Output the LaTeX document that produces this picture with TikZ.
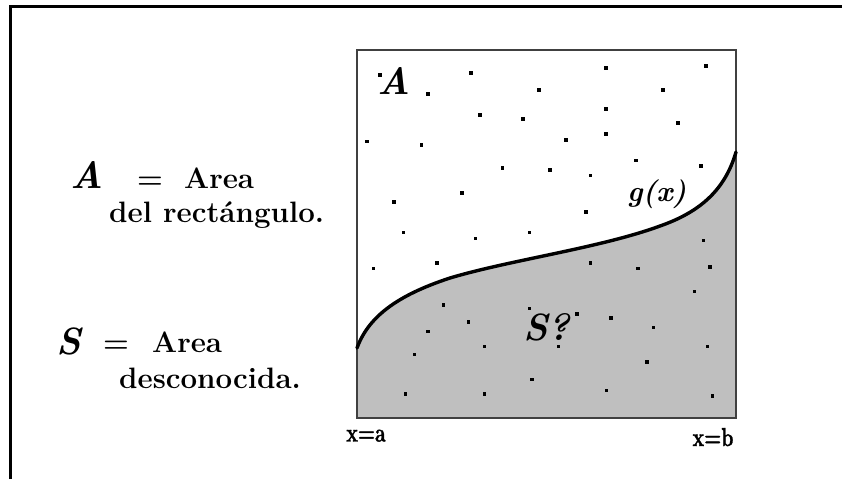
\documentclass[tikz,border=0pt]{standalone}
\usepackage{fontspec}
\newfontfamily\heavyfont{Latin Modern Roman}[BoldFeatures={FakeBold=1.5}]
\begin{document}
\begin{tikzpicture}[x=1pt,y=-1pt,
  frameline/.style={line width=3pt,line cap=butt},
  boxline/.style={line width=1.6pt,draw=black!75},
  curveline/.style={line width=3.4pt,line cap=round},
  shade/.style={fill=black!25},
  lbl/.style={inner sep=0pt,anchor=base west,font=\fontsize{29.5}{32}\selectfont\bfseries},
  var/.style={inner sep=0pt,anchor=base west,font=\fontsize{38}{40}\selectfont\bfseries\itshape},
  fn/.style={inner sep=0pt,anchor=base west,font=\fontsize{29}{31}\selectfont\bfseries\itshape},
  endlbl/.style={inner sep=0pt,anchor=base,font=\heavyfont\fontsize{26}{28}\selectfont\bfseries},
  dotmark/.style={fill=black}]
\useasboundingbox (0,0) rectangle (842,479);
% frame
\draw[frameline] (10.5,479) -- (10.5,6.5) -- (842,6.5);
% shaded region under g(x)
\fill[shade] (357,418) -- (357,348)
  .. controls (368,318) and (395,296) .. (450,278)
  .. controls (510,260) and (600,248) .. (660,226)
  .. controls (700,212) and (725,190) .. (736,152)
  -- (736,418) -- cycle;
% rectangle
\draw[boxline] (357,50) rectangle (736,418);
% curve g(x)
\draw[curveline] (357,348)
  .. controls (368,318) and (395,296) .. (450,278)
  .. controls (510,260) and (600,248) .. (660,226)
  .. controls (700,212) and (725,190) .. (736,152);
% dots
\foreach \px/\py in {380/75,471/73,428/94,539/90,606/68,706/66,663/90,480/115,523/119,606/109,678/123,367/141.5,421.5/145,566/140,606/134,502.5/168,550/170,590.5/175.7,636/160.5,701/166,394/202,462/193,586/212,403.3/232.7,475.5/238.3,529.7/232.7,373.7/268.7,437/263,590.7/263,638/268.7,703.3/240.3,710/267,694.3/291.5,443.7/305,529.3/308.3,577/314,611/318,468.5/322,653.5/327.5,428/331.7,484.3/346.7,558.7/346.7,707.7/346.7,414.7/354.3,647/362,532/379.3,405.7/394,484.3/394,606.3/390.3,712.3/396}
  \fill[dotmark] (\px-1.7,\py-1.6) rectangle (\px+1.7,\py+1.6);
% labels inside
\node[var] (Ain) at (377,94) {A};
\node[fn] (gx) at (627,201) {g(x)};
\node[var] (Sin) at (523,340) {S?};
\node[endlbl] (xa) at (366,441.5) {\scalebox{0.75}[1]{x=a}};
\node[endlbl] (xb) at (713,446) {\scalebox{0.75}[1]{x=b}};
% legend
\node[var] (Aleg) at (70,188) {A};
\node[lbl] (Aeq) at (137,188) {=};
\node[lbl] (Aarea) at (184,188) {Area};
\node[lbl] (Adesc) at (109,222) {del rectángulo.};
\node[var] (Sleg) at (56,354) {S};
\node[lbl] (Seq) at (103,352) {=};
\node[lbl] (Sarea) at (152,352) {Area};
\node[lbl] (Sdesc) at (119,388) {desconocida.};
\end{tikzpicture}
\end{document}
